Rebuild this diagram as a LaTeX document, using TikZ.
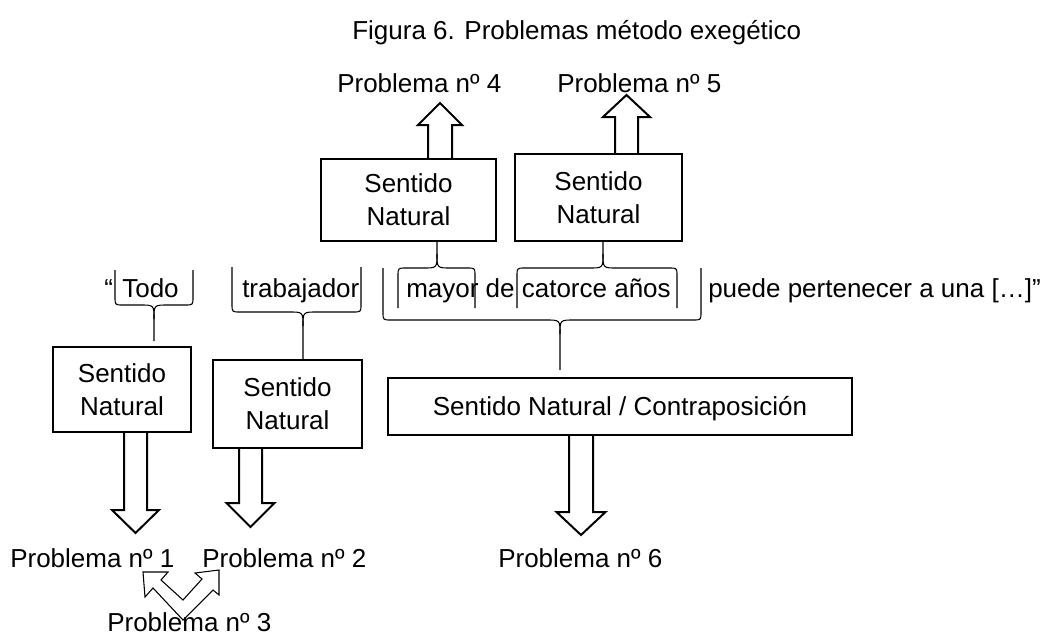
\documentclass[tikz,border=0pt]{standalone}
\usepackage{fontspec}
\setmainfont{Liberation Sans}
\usetikzlibrary{calc}
\tikzset{
  box/.style={draw, line width=1.5pt, inner sep=0pt, align=center, font=\fontsize{19.5}{24.75}\selectfont},
  txt/.style={inner sep=0pt, anchor=base west, font=\fontsize{19.5}{24.75}\selectfont},
  barrow/.style={draw, line width=1.5pt, line join=miter},
  brc/.style={draw, line width=0.8pt},
  varrow/.style={draw, line width=0.8pt, line join=miter}
}
% block arrow: #1 x, #2 y start, #3 y head base, #4 y tip, #5 half shaft, #6 half head
\newcommand\blockar[6]{%
  \draw[barrow] ({#1-#5},#2) -- ({#1-#5},#3) -- ({#1-#6},#3) -- (#1,#4) -- ({#1+#6},#3) -- ({#1+#5},#3) -- ({#1+#5},#2);}
% brace: #1 xl, #2 xm, #3 xr, #4 y ends, #5 y line, #6 y tip, #7 sign
\newcommand\hbrace[7]{%
  \draw[brc] (#1,#4) -- (#1,{#5-(#7)*8}) .. controls (#1,#5) .. ({#1+8},#5) -- ({#2-14},#5) .. controls (#2,#5) .. (#2,{#5+(#7)*14}) -- (#2,#6);
  \draw[brc] (#3,#4) -- (#3,{#5-(#7)*8}) .. controls (#3,#5) .. ({#3-8},#5) -- ({#2+14},#5) .. controls (#2,#5) .. (#2,{#5+(#7)*14});}
\begin{document}
\begin{tikzpicture}[x=0.75pt, y=-0.75pt]
\useasboundingbox (0,0) rectangle (1048,635);

% title
\node[txt] (title) at (352,40) {Figura 6. Problemas método exegético};

% boxes
\node[box, minimum width=131.25pt, minimum height=61.5pt] (b4) at (408.5,200) {Sentido\\Natural};
\node[box, minimum width=125.25pt, minimum height=65.25pt] (b5) at (598.5,197.5) {Sentido\\Natural};
\node[box, minimum width=103.5pt, minimum height=63.75pt] (b1) at (122,389.5) {Sentido\\Natural};
\node[box, minimum width=111.75pt, minimum height=66pt] (b2) at (287.5,404) {Sentido\\Natural};
\node[box, minimum width=348pt, minimum height=42.75pt, text height=13.96pt, text depth=0pt] (b6) at (620,406.5) {Sentido Natural / Contraposición};

% sentence
\node[txt] (q) at (104,297) {“};
\node[txt] (w1) at (122,297) {Todo};
\node[txt] (w2) at (242,297) {trabajador};
\node[txt] (w3) at (406,297) {mayor de catorce años};
\node[txt] (w4) at (708,297) {puede pertenecer a una […]”};

% labels
\node[txt] (p4) at (337,93) {Problema nº 4};
\node[txt] (p5) at (557,93) {Problema nº 5};
\node[txt] (p1) at (10,567) {Problema nº 1};
\node[txt] (p2) at (202,567) {Problema nº 2};
\node[txt] (p6) at (498,567) {Problema nº 6};
\node[txt, text depth=0pt] (p3) at (107,631) {Problema nº 3};

% braces
\hbrace{115}{154}{193}{270}{305}{341}{1}
\hbrace{232}{303}{361}{267}{312}{360}{1}
\hbrace{398}{437}{475}{308}{268}{241}{-1}
\hbrace{517}{603}{677}{308}{268}{241}{-1}
\hbrace{383}{560}{701}{268}{320}{370}{1}

% block arrows
\blockar{440}{159}{125}{103}{12}{22}
\blockar{626.5}{154}{117}{95}{11.5}{23.5}
\blockar{135.5}{432}{510}{533}{11.5}{23.5}
\blockar{250.5}{448}{503}{527}{11.5}{24}
\blockar{581}{435}{512}{535}{12}{24.5}

% bent double arrow
\draw[varrow] (143,572) -- (168,572) -- (161,580) -- (183,600) -- (202,579) -- (195,573) -- (219,570) -- (219,595) -- (213,590) -- (183,620) -- (153,588) -- (145,597) -- cycle;
\end{tikzpicture}
\end{document}
